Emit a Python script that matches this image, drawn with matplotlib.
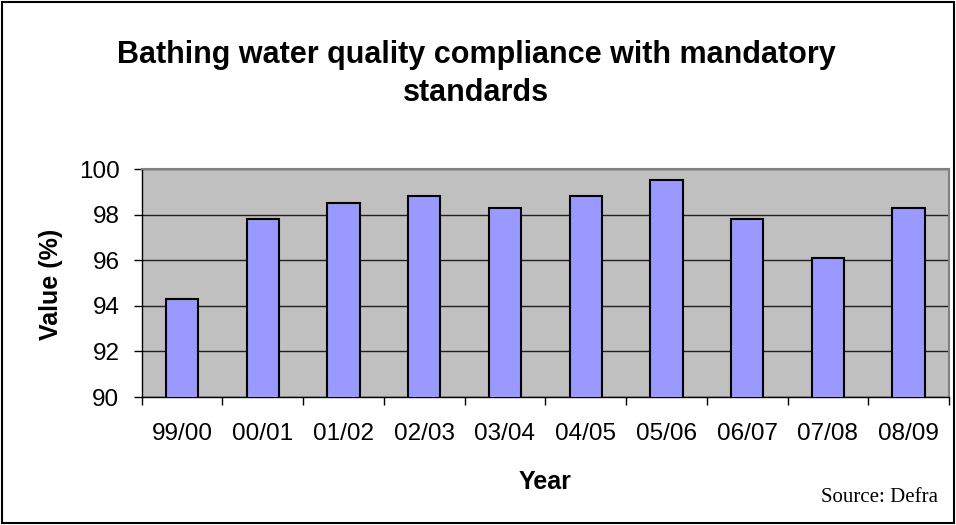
import matplotlib.pyplot as plt
import numpy as np

years = ["99/00", "00/01", "01/02", "02/03", "03/04", "04/05", "05/06", "06/07", "07/08", "08/09"]
values = [94.3, 97.8, 98.5, 98.8, 98.3, 98.8, 99.5, 97.8, 96.1, 98.3]
yticks = [90, 92, 94, 96, 98, 100]

plt.rcParams['font.family'] = ['Liberation Sans', 'DejaVu Sans']

W, H = 956, 525
fig = plt.figure(figsize=(W / 100, H / 100), dpi=100)
left, right, top, bottom = 141.7, 949, 169, 397
ax = fig.add_axes([left / W, 1 - bottom / H, (right - left) / W, (bottom - top) / H])

x = np.arange(len(years))
ax.bar(x, values, width=0.4, bottom=0, color="#9999FF", edgecolor="black", linewidth=1.5, zorder=3)

ax.set_facecolor("#C0C0C0")
ax.set_ylim(90, 100)
ax.set_xlim(-0.5, len(years) - 0.5)
ax.set_yticks(yticks)
ax.set_yticklabels([str(v) for v in yticks], fontsize=17.5)
ax.yaxis.grid(True, color="#202020", linewidth=1, zorder=1)
ax.tick_params(axis="y", length=6, width=1, pad=10)

# category labels centred, ticks between categories
ax.set_xticks(x)
ax.set_xticklabels(years, fontsize=17.5)
ax.tick_params(axis="x", length=0, pad=19)
ax.set_xticks(np.arange(len(years) + 1) - 0.5, minor=True)
ax.tick_params(axis="x", which="minor", length=6, width=1, color="black")

for side in ["top", "right"]:
    ax.spines[side].set_color("#808080")
    ax.spines[side].set_linewidth(1.5)
for side in ["left", "bottom"]:
    ax.spines[side].set_color("black")
    ax.spines[side].set_linewidth(1)

ax.set_ylabel("Value (%)", fontsize=18, fontweight="bold")
ax.yaxis.set_label_coords((51 - left) / (right - left), 0.5 + (282 - 283) / (bottom - top))
ax.set_xlabel("Year", fontsize=18, fontweight="bold")
ax.xaxis.set_label_coords(0.5, (bottom - 482) / (bottom - top))
ax.xaxis.label.set_va("center")
ax.yaxis.label.set_va("center")

fig.text(476 / W, 1 - 55 / H, "Bathing water quality compliance with mandatory",
         ha="center", va="center", fontsize=22, fontweight="bold")
fig.text(476 / W, 1 - 93 / H, "standards",
         ha="center", va="center", fontsize=22, fontweight="bold")
fig.text(938 / W, 1 - 497 / H, "Source: Defra", ha="right", va="center",
         fontsize=15, family=["Liberation Serif", "DejaVu Serif"])

# outer chart frame
fig.patches.append(plt.Rectangle((2 / W, 2 / H), 952 / W, 521 / H, transform=fig.transFigure,
                                 fill=False, edgecolor="black", linewidth=1.5))

fig.savefig("out.png", dpi=100)
